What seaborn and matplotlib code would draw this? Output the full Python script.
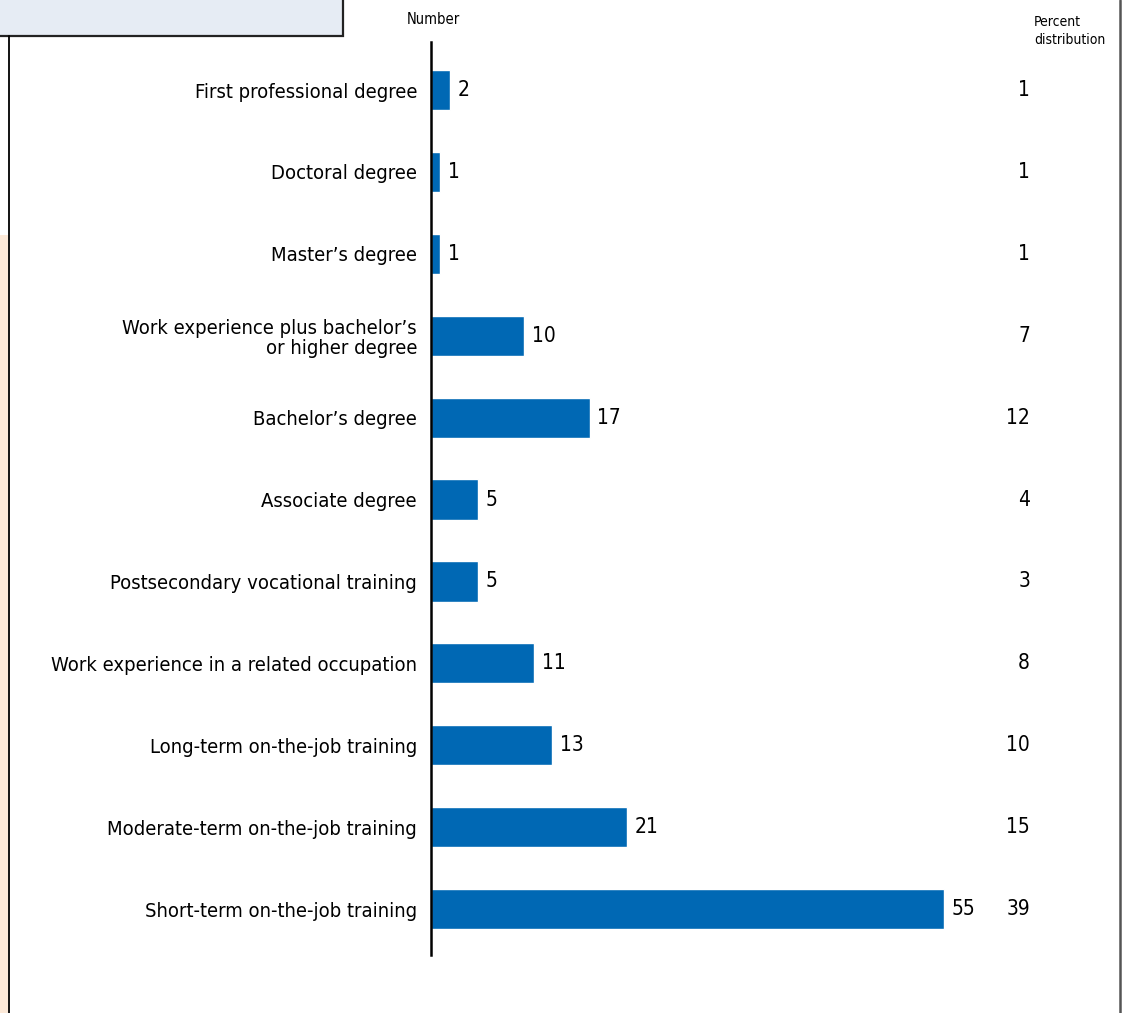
import pandas as pd
import matplotlib.pyplot as plt
import seaborn as sns
from matplotlib.patches import Rectangle
from matplotlib.lines import Line2D

categories = [
    "First professional degree",
    "Doctoral degree",
    "Master\u2019s degree",
    "Work experience plus bachelor\u2019s\nor higher degree",
    "Bachelor\u2019s degree",
    "Associate degree",
    "Postsecondary vocational training",
    "Work experience in a related occupation",
    "Long-term on-the-job training",
    "Moderate-term on-the-job training",
    "Short-term on-the-job training",
]
numbers = [2, 1, 1, 10, 17, 5, 5, 11, 13, 21, 55]
percents = [1, 1, 1, 7, 12, 4, 3, 8, 10, 15, 39]

df = pd.DataFrame({"category": categories, "number": numbers, "percent": percents})

sns.set_style("white")
plt.rcParams['font.family'] = ['DejaVu Sans']
plt.rcParams['font.stretch'] = 'condensed'
plt.rcParams['text.color'] = 'black'
plt.rcParams['ytick.color'] = 'black'

W, H = 1123, 1013
fig = plt.figure(figsize=(W / 100, H / 100), dpi=100)

# frame decorations (figure pixel coords)
px = lambda x, y: (x / W, 1 - y / H)
fig.patches.append(Rectangle(px(0, 1013), 8 / W, (1013 - 235) / H, transform=fig.transFigure,
                             facecolor='#FCE9D8', edgecolor='none', zorder=0))
fig.patches.append(Rectangle(px(-2, 36), 345 / W, 40 / H, transform=fig.transFigure,
                             facecolor='#E6ECF4', edgecolor='#222222', linewidth=1.6, zorder=1))
fig.lines.append(Line2D([8.5 / W, 8.5 / W], [0, 1 - 36 / H], transform=fig.transFigure,
                        color='black', linewidth=1.3))
fig.lines.append(Line2D([1120 / W, 1120 / W], [0, 1], transform=fig.transFigure,
                        color='#555555', linewidth=1.8))

left, right = 431 / W, 1100 / W
bottom, top = 1 - 955 / H, 1 - 42 / H
ax = fig.add_axes([left, bottom, right - left, top - bottom])

sns.barplot(data=df, x="number", y="category", orient="h", color='#0068B4',
            saturation=1, width=0.49, ax=ax)

px_per_unit = 513 / 55
ax.set_xlim(0, (1100 - 431) / px_per_unit)
ax.set_ylim(10.56, -0.586)

for s in ['top', 'right', 'bottom']:
    ax.spines[s].set_visible(False)
ax.spines['left'].set_linewidth(1.8)
ax.spines['left'].set_color('black')
ax.set_xticks([])
ax.set_xlabel("")
ax.set_ylabel("")
ax.tick_params(axis='y', length=0, pad=10, labelsize=14.5)
for lbl in ax.get_yticklabels():
    lbl.set_horizontalalignment('right')
    lbl.set_linespacing(1.1)

for i, (n, p) in enumerate(zip(numbers, percents)):
    ax.text(n + 0.85, i, str(n), va='center', ha='left', fontsize=15)
    ax.text((1030 - 431) / (1100 - 431), i, str(p), va='center', ha='right',
            fontsize=15, transform=ax.get_yaxis_transform())

fig.text(433 / W, 1 - 20 / H, "Number", ha='center', va='center', fontsize=10.5)
fig.text(1034 / W, 1 - 31 / H, "Percent\ndistribution", ha='left', va='center',
         fontsize=10, linespacing=1.3)

fig.savefig("out.png", dpi=100)
